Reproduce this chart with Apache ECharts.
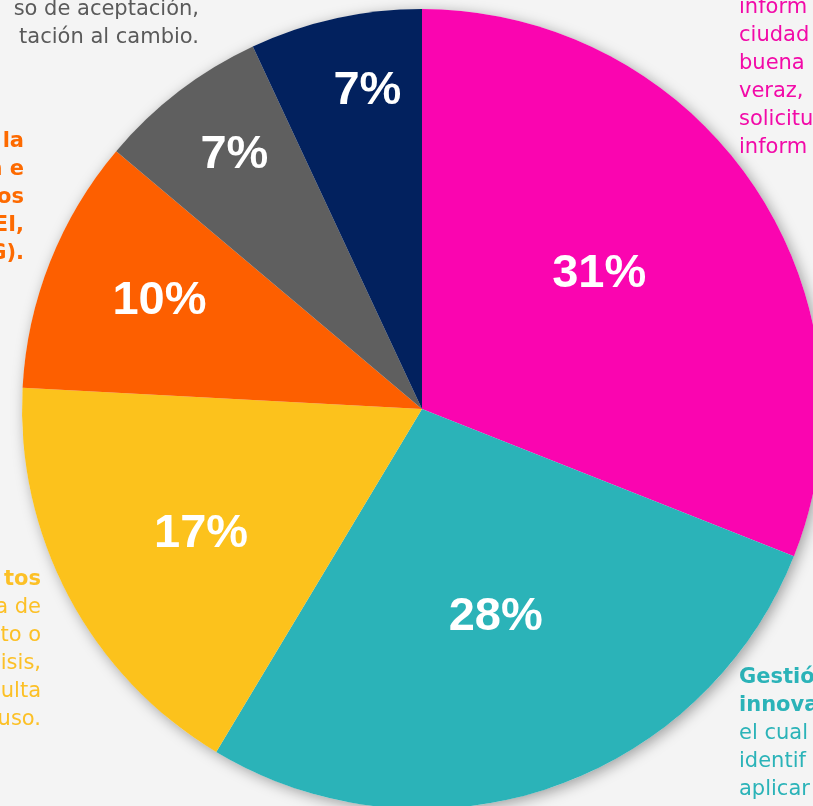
<!DOCTYPE html>
<html><head><meta charset="utf-8">
<script src="https://cdn.jsdelivr.net/npm/echarts@6/dist/echarts.min.js"></script>
<style>html,body{margin:0;padding:0;background:#f4f4f4}#c{width:813px;height:806px}</style>
</head><body><div id="c"></div>
<script>
const categories = ['Transparencia', 'Gestión de la innovación', 'Gestión de conflictos', 'Gestión de la información', 'Resistencia al cambio', 'Otros'];
const values = [31.0, 27.6, 17.25, 10.3, 6.9, 6.95];
const colors = ['#fa05b0', '#2bb3b8', '#fcc21c', '#fd5f00', '#5f5f5f', '#02215e'];
const labelRadius = [220, 218, 251, 281, 313, 320];
const labelAngle = [52.6, 160.5, 240.4, 292.4, 323.6, 350.3];

const chart = echarts.init(document.getElementById('c'));
const total = values.reduce((a, b) => a + b, 0);
let acc = 0;
const rad = Math.PI / 180;
const data = values.map((v, i) => {
  const mid = (acc + v / 2) / total * 2 * Math.PI;
  acc += v;
  const a = labelAngle[i] * rad, r = labelRadius[i];
  const ox = r * Math.sin(a) - 200 * Math.sin(mid);
  const oy = -r * Math.cos(a) + 200 * Math.cos(mid);
  return {
    name: categories[i], value: v,
    itemStyle: { color: colors[i] },
    label: { offset: [ox, oy] }
  };
});

const txt = (x, y, s, color, align, weight) => ({
  type: 'text', x: x, y: y, silent: true,
  style: { text: s, fill: color, font: (weight || 'normal') + ' 21px "DejaVu Sans", sans-serif', textAlign: align, textVerticalAlign: 'middle' }
});
const graphics = [];
const block = (x, y0, lines, color, align, boldCount) => lines.forEach((s, k) =>
  graphics.push(txt(x, y0 + k * 28, s, color, align, k < boldCount ? 'bold' : 'normal')));
block(199, 10, ['so de aceptación,', 'tación al cambio.'], '#5a5a5a', 'right', 0);
block(24, 142, ['la', 'n e', 'os', 'EI,', 'G).'], '#fd6a00', 'right', 5);
block(739, 8, ['inform', 'ciudad', 'buena', 'veraz,', 'solicitu', 'inform'], '#f20aa8', 'left', 0);
block(41, 580, ['tos', 'a de', 'to o', 'isis,', 'ulta', 'uso.'], '#fcc026', 'right', 1);
block(739, 678, ['Gestió', 'innova', 'el cual', 'identif', 'aplicar'], '#2bb3b8', 'left', 2);

chart.setOption({
  backgroundColor: '#f4f4f4',
  animation: false,
  graphic: graphics,
  series: [
    {
      type: 'pie', center: [422, 409], radius: 400, silent: true, z: 1,
      label: { show: false }, labelLine: { show: false },
      itemStyle: { color: '#f4f4f4', shadowBlur: 14, shadowColor: 'rgba(0,0,0,0.35)', shadowOffsetX: 3, shadowOffsetY: 3 },
      data: [{ value: 1 }]
    },
    {
      type: 'pie', center: [422, 409], radius: 400, startAngle: 90, clockwise: true,
      percentPrecision: 0, z: 2,
      itemStyle: { borderWidth: 0 },
      labelLine: { show: false },
      label: {
        show: true, position: 'inside', formatter: '{d}%',
        color: '#ffffff', fontFamily: '"Liberation Sans", Arial, sans-serif',
        fontWeight: 'bold', fontSize: 47
      },
      emphasis: { disabled: true },
      data: data
    }
  ]
});
</script></body></html>
